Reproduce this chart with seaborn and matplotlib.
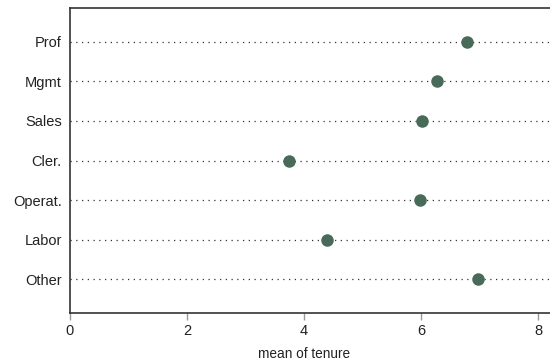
import pandas as pd
import matplotlib
matplotlib.use("Agg")
import matplotlib.pyplot as plt
import seaborn as sns

occupations = ["Prof", "Mgmt", "Sales", "Cler.", "Operat.", "Labor", "Other"]
mean_tenure = [6.79, 6.27, 6.02, 3.74, 5.98, 4.39, 6.97]
x_ticks = [0, 2, 4, 6, 8]

df = pd.DataFrame({"occupation": occupations, "tenure": mean_tenure})

sns.set_theme(style="white")
plt.rcParams["font.family"] = ["Liberation Sans", "DejaVu Sans"]

fig = plt.figure(figsize=(5.5, 3.6), dpi=100)
# axes run past the right edge, like the cropped original
ax = fig.add_axes([70 / 550, 47 / 360, 490 / 550, 305 / 360])

# dotted guide lines for each category
for i in range(len(occupations)):
    ax.axhline(i, color="#333333", linewidth=0.9, linestyle=(0, (1, 3.6)), zorder=1)

sns.stripplot(data=df, x="tenure", y="occupation", order=occupations,
              jitter=False, color="#476b58", size=9, linewidth=0, ax=ax, zorder=3)

ax.set_xlim(0, 8.376)
ax.set_ylim(len(occupations) - 1 + 0.85, -0.85)
ax.set_xticks(x_ticks)
ax.set_xticklabels([str(t) for t in x_ticks], fontsize=10.5, color="#222222")
ax.tick_params(axis="x", length=5, width=1, color="#999999", pad=3, bottom=True)
ax.tick_params(axis="y", length=0, pad=6, labelsize=10.5, labelcolor="#222222")

ax.set_ylabel("")
ax.set_xlabel("mean of tenure", fontsize=9.8, color="#222222")
ax.xaxis.set_label_coords(4 / 8.376, -0.11)

for side in ["left", "bottom", "top"]:
    ax.spines[side].set_color("#333333")
    ax.spines[side].set_linewidth(1.2)
ax.spines["right"].set_visible(False)

fig.savefig("out.png", dpi=100)
